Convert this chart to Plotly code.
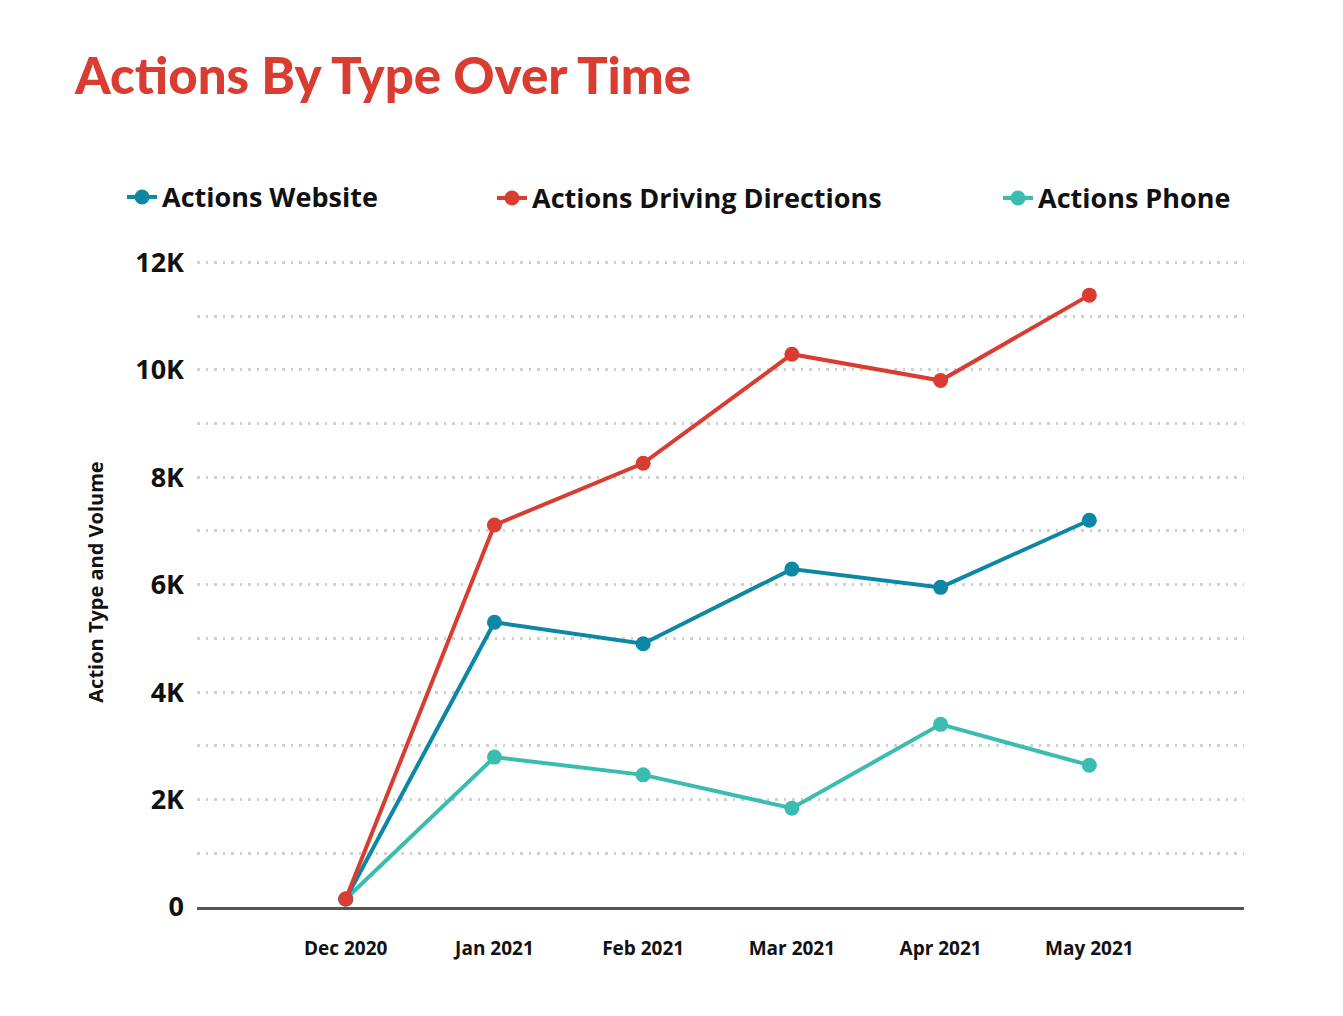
import plotly.graph_objects as go

months = ["Dec 2020", "Jan 2021", "Feb 2021", "Mar 2021", "Apr 2021", "May 2021"]
website = [150, 5300, 4900, 6290, 5950, 7200]
driving = [150, 7110, 8260, 10290, 9800, 11390]
phone = [150, 2790, 2460, 1840, 3400, 2640]

series_names = ["Actions Website", "Actions Driving Directions", "Actions Phone"]
colors = ["#0D87A6", "#D93C31", "#3BBCB1"]

ytickvals = [0, 2000, 4000, 6000, 8000, 10000, 12000]
yticktext = ["0", "2K", "4K", "6K", "8K", "10K", "12K"]

FONT = "Open Sans"
TFONT = "Lato"

series = [website, driving, phone]
legends = ["legend", "legend2", "legend3"]

fig = go.Figure()
# draw order: phone, website, driving (driving on top)
for i in [2, 0, 1]:
    fig.add_trace(go.Scatter(
        x=months, y=series[i], name=series_names[i], mode="lines+markers",
        line=dict(color=colors[i], width=4),
        marker=dict(color=colors[i], size=15),
        legend=legends[i],
    ))

# page has an 8px body margin; target (page px): x 197..1244, y(0)=907, y(12000)=262
OFF = 8
YMAX = 12100
PX_PER_UNIT = (907 - 262) / 12000
top_px = 907 - YMAX * PX_PER_UNIT

W, H = 1343 - OFF, 1016 - OFF
L, T = 197 - OFF, top_px - OFF
R = W - (1244 - OFF)
B = H - (907 - OFF)

def px_x(p):
    return (p - 197) / (1244 - 197)

def px_y(p):
    return (907 - p) / (907 - top_px)

leg_common = dict(orientation="h", yanchor="middle", xanchor="left",
                  font=dict(family=FONT, size=27, color="#111111", weight=700),
                  bgcolor="rgba(0,0,0,0)", itemwidth=30)

fig.update_layout(
    width=W, height=H,
    margin=dict(l=L, r=R, t=T, b=B),
    paper_bgcolor="white", plot_bgcolor="white",
    showlegend=True,
    title=dict(text="Actions By Type Over Time", x=(75 - OFF) / W, xanchor="left",
               y=1 - (76 - OFF) / H, yanchor="middle",
               font=dict(family=TFONT, size=51, color="#D93C31", weight=900)),
    legend=dict(x=px_x(122), y=px_y(197), **leg_common),
    legend2=dict(x=px_x(492), y=px_y(198), **leg_common),
    legend3=dict(x=px_x(998), y=px_y(198), **leg_common),
    xaxis=dict(
        type="category", range=[-1.0, 6.04],
        showgrid=False, zeroline=False,
        showline=True, linecolor="#555555", linewidth=3,
        ticks="", ticklabelstandoff=22,
        tickfont=dict(family=FONT, size=19, color="#111111", weight=700),
    ),
    yaxis=dict(
        range=[0, YMAX], tickvals=ytickvals, ticktext=yticktext,
        showgrid=True, gridcolor="#D0D0D0", gridwidth=2.5, griddash="2.5px,6px",
        minor=dict(tickvals=list(range(1000, 12001, 2000)), showgrid=True,
                   gridcolor="#D0D0D0", gridwidth=2.5, griddash="2.5px,6px"),
        zeroline=False, showline=False, ticks="", ticklabelstandoff=12,
        tickfont=dict(family=FONT, size=27, color="#111111", weight=700),
        title=dict(text="Action Type and Volume", standoff=26,
                   font=dict(family=FONT, size=20, color="#111111", weight=700)),
    ),
)

fig.write_html("out.html")
